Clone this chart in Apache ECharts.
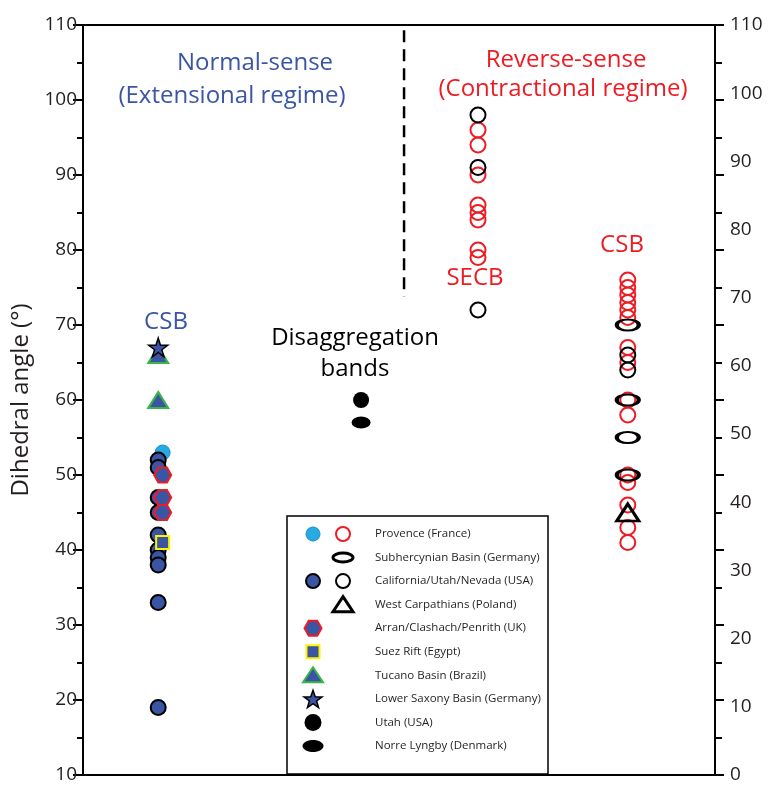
<!DOCTYPE html>
<html>
<head>
<meta charset="utf-8">
<script src="https://cdn.jsdelivr.net/npm/echarts@6/dist/echarts.min.js"></script>
<style>
  html, body { margin: 0; padding: 0; background: #fff; }
  #chart { width: 769px; height: 789px; }
</style>
</head>
<body>
<div id="chart"></div>
<script>
// Column positions on the hidden 0–100 horizontal scale
const columnX = { normalCSB: 11.9, disaggregation: 44, secb: 62.5, reverseCSB: 86.2 };
const nudge = 0.7;

// Normal-sense (extensional) CSB column
const californiaSolid = [52, 51, 47, 45, 42, 40, 39, 38, 33, 19];
const provenceSolid = [53];
const arranHex = [50, 47, 45];
const suezSquare = [41];
const tucanoTriangle = [66, 60];
const lowerSaxonyStar = [67];

// Disaggregation bands
const utahDisagg = [60];
const norreLyngby = [57];

// Reverse-sense SECB column
const secbProvence = [96, 94, 90, 86, 85, 84, 80, 79];
const secbCalifornia = [98, 91, 72];

// Reverse-sense CSB column
const csbProvence = [76, 75, 74, 73, 72, 71, 67, 65, 60, 58, 50, 49, 46, 43, 41];
const csbSubhercynian = [70, 60, 55, 50];
const csbCalifornia = [66, 64];
const csbCarpathians = [45];

// Dashed divider between regimes
const dividerX = 50.8;
const dividerRange = [109.3, 73.8];

// Axis ticks
const leftTicks = { min: 10, max: 110, interval: 10 };
const rightTicks = { min: 0, max: 110, interval: 10 };

const DARK_BLUE = '#3b55a5';
const LIGHT_BLUE = '#27aae1';
const RED = '#ed1c24';
const GREEN = '#39b54a';
const YELLOW = '#fff200';
const FONT = '"Open Sans", "Liberation Sans", sans-serif';

const HEX = 'path://M-1,0 L-0.5,-0.866 L0.5,-0.866 L1,0 L0.5,0.866 L-0.5,0.866 Z';
const STAR = 'path://M0,-1 L0.2245,-0.309 L0.951,-0.309 L0.363,0.118 L0.588,0.809 L0,0.382 L-0.588,0.809 L-0.363,0.118 L-0.951,-0.309 L-0.2245,-0.309 Z';

const at = (x, values) => values.map(v => [x, v]);

function scatter(name, data, symbol, size, itemStyle, z) {
  return {
    name, type: 'scatter', data, symbol, symbolSize: size,
    itemStyle: Object.assign({ opacity: 1 }, itemStyle),
    z: z || 2, silent: true, animation: false
  };
}

const series = [
  scatter('Provence (France)', at(columnX.normalCSB + nudge, provenceSolid), 'circle', 15,
    { color: LIGHT_BLUE, borderColor: '#1c8fc9', borderWidth: 1 }, 2),
  scatter('California/Utah/Nevada (USA)', at(columnX.normalCSB, californiaSolid), 'circle', 15,
    { color: DARK_BLUE, borderColor: '#000', borderWidth: 2 }, 3),
  scatter('Arran/Clashach/Penrith (UK)', at(columnX.normalCSB + nudge, arranHex), HEX, [17, 15],
    { color: DARK_BLUE, borderColor: RED, borderWidth: 2 }, 4),
  scatter('Suez Rift (Egypt)', at(columnX.normalCSB + nudge, suezSquare), 'rect', 13,
    { color: DARK_BLUE, borderColor: YELLOW, borderWidth: 2 }, 5),
  scatter('Tucano Basin (Brazil)', at(columnX.normalCSB, tucanoTriangle), 'triangle', [20, 16],
    { color: DARK_BLUE, borderColor: GREEN, borderWidth: 2 }, 5),
  scatter('Lower Saxony Basin (Germany)', at(columnX.normalCSB, lowerSaxonyStar), STAR, 19,
    { color: DARK_BLUE, borderColor: '#000', borderWidth: 1.5 }, 6),

  scatter('Utah (USA)', at(columnX.disaggregation, utahDisagg), 'circle', 16,
    { color: '#000' }, 3),
  scatter('Norre Lyngby (Denmark)', at(columnX.disaggregation, norreLyngby), 'circle', [19, 12],
    { color: '#000' }, 3),

  scatter('Provence (France) SECB', at(columnX.secb, secbProvence), 'circle', 15,
    { color: 'rgba(0,0,0,0)', borderColor: RED, borderWidth: 2 }, 3),
  scatter('California SECB', at(columnX.secb, secbCalifornia), 'circle', 15,
    { color: 'rgba(0,0,0,0)', borderColor: '#000', borderWidth: 2 }, 4),

  scatter('Provence (France) CSB', at(columnX.reverseCSB, csbProvence), 'circle', 15,
    { color: 'rgba(0,0,0,0)', borderColor: RED, borderWidth: 2 }, 3),
  scatter('California CSB', at(columnX.reverseCSB, csbCalifornia), 'circle', 15,
    { color: 'rgba(0,0,0,0)', borderColor: '#000', borderWidth: 2 }, 4),
  scatter('Subhercynian Basin (Germany)', at(columnX.reverseCSB, csbSubhercynian), 'circle', [22, 11],
    { color: 'rgba(0,0,0,0)', borderColor: '#000', borderWidth: 3 }, 5),
  scatter('West Carpathians (Poland)', at(columnX.reverseCSB, csbCarpathians), 'triangle', [22, 17],
    { color: 'rgba(0,0,0,0)', borderColor: '#000', borderWidth: 3 }, 5),

  {
    name: 'divider', type: 'line', silent: true, animation: false, symbol: 'none',
    data: dividerRange.map(v => [dividerX, v]),
    lineStyle: { color: '#000', width: 2.5, type: [12, 7] }, z: 1
  }
];

// Legend drawn as graphics inside a framed box
const LX1 = 313, LX2 = 343, LTX = 375, LY0 = 534, LDY = 23.55;
const legendRows = [
  'Provence (France)', 'Subhercynian Basin (Germany)', 'California/Utah/Nevada (USA)',
  'West Carpathians (Poland)', 'Arran/Clashach/Penrith (UK)', 'Suez Rift (Egypt)',
  'Tucano Basin (Brazil)', 'Lower Saxony Basin (Germany)', 'Utah (USA)', 'Norre Lyngby (Denmark)'
];
const rowY = i => LY0 + i * LDY;
function hexPoints(cx, cy, rx, ry) {
  return [[cx - rx, cy], [cx - rx / 2, cy - ry], [cx + rx / 2, cy - ry], [cx + rx, cy], [cx + rx / 2, cy + ry], [cx - rx / 2, cy + ry]];
}
function starPoints(cx, cy, r) {
  const pts = [];
  for (let k = 0; k < 10; k++) {
    const rr = k % 2 === 0 ? r : r * 0.4;
    const a = -Math.PI / 2 + k * Math.PI / 5;
    pts.push([cx + rr * Math.cos(a), cy + rr * Math.sin(a)]);
  }
  return pts;
}
const legendGraphics = [
  { type: 'rect', shape: { x: 287, y: 516, width: 261, height: 258 },
    style: { fill: '#fff', stroke: '#000', lineWidth: 1.5 }, z: 10 },
  ...legendRows.map((t, i) => ({
    type: 'text', x: LTX, y: rowY(i), z: 11,
    style: { text: t, fill: '#231f20', font: '11.5px ' + FONT, textVerticalAlign: 'middle' }
  })),
  { type: 'circle', shape: { cx: LX1, cy: rowY(0), r: 7 }, style: { fill: LIGHT_BLUE, stroke: '#1c8fc9', lineWidth: 1 }, z: 11 },
  { type: 'circle', shape: { cx: LX2, cy: rowY(0), r: 7 }, style: { fill: 'none', stroke: RED, lineWidth: 2 }, z: 11 },
  { type: 'ellipse', shape: { cx: LX2, cy: rowY(1), rx: 10, ry: 4.5 }, style: { fill: 'none', stroke: '#000', lineWidth: 3 }, z: 11 },
  { type: 'circle', shape: { cx: LX1, cy: rowY(2), r: 7 }, style: { fill: DARK_BLUE, stroke: '#000', lineWidth: 2 }, z: 11 },
  { type: 'circle', shape: { cx: LX2, cy: rowY(2), r: 7 }, style: { fill: 'none', stroke: '#000', lineWidth: 2 }, z: 11 },
  { type: 'polygon', shape: { points: [[LX2, rowY(3) - 8], [LX2 + 10, rowY(3) + 7], [LX2 - 10, rowY(3) + 7]] }, style: { fill: 'none', stroke: '#000', lineWidth: 3 }, z: 11 },
  { type: 'polygon', shape: { points: hexPoints(LX1, rowY(4), 8.5, 7.5) }, style: { fill: DARK_BLUE, stroke: RED, lineWidth: 2 }, z: 11 },
  { type: 'rect', shape: { x: LX1 - 6.5, y: rowY(5) - 6.5, width: 13, height: 13 }, style: { fill: DARK_BLUE, stroke: YELLOW, lineWidth: 2 }, z: 11 },
  { type: 'polygon', shape: { points: [[LX1, rowY(6) - 8], [LX1 + 10, rowY(6) + 7], [LX1 - 10, rowY(6) + 7]] }, style: { fill: DARK_BLUE, stroke: GREEN, lineWidth: 2 }, z: 11 },
  { type: 'polygon', shape: { points: starPoints(LX1, rowY(7) + 1, 9.5) }, style: { fill: DARK_BLUE, stroke: '#000', lineWidth: 1.5 }, z: 11 },
  { type: 'circle', shape: { cx: LX1, cy: rowY(8), r: 8.5 }, style: { fill: '#000' }, z: 11 },
  { type: 'ellipse', shape: { cx: LX1, cy: rowY(9), rx: 10.5, ry: 6 }, style: { fill: '#000' }, z: 11 }
];

function label(text, x, y, color, size, align) {
  return { type: 'text', x, y, z: 9,
    style: { text, fill: color, font: size + 'px ' + FONT, textAlign: align || 'center', textVerticalAlign: 'middle' } };
}

const annotations = [
  label('Normal-sense', 255, 63, DARK_BLUE, 24),
  label('(Extensional regime)', 232, 96, DARK_BLUE, 24),
  label('Reverse-sense', 566, 60, RED, 24),
  label('(Contractional regime)', 563, 89, RED, 24),
  label('CSB', 166, 322, DARK_BLUE, 24),
  label('Disaggregation', 355, 338, '#000', 24),
  label('bands', 355, 369, '#000', 24),
  label('SECB', 475, 278, RED, 24),
  label('CSB', 622, 245, RED, 24)
];

const axisLine = { show: true, lineStyle: { color: '#000', width: 2 } };
const tickLabel = { color: '#231f20', fontSize: 19, fontFamily: FONT };

const option = {
  animation: false,
  backgroundColor: '#fff',
  grid: { left: 83, right: 54, top: 25, bottom: 14, containLabel: false },
  xAxis: [
    { type: 'value', min: 0, max: 100, position: 'bottom', axisLine,
      axisTick: { show: false }, axisLabel: { show: false }, splitLine: { show: false } },
    { type: 'value', min: 0, max: 100, position: 'top', axisLine,
      axisTick: { show: false }, axisLabel: { show: false }, splitLine: { show: false } }
  ],
  yAxis: [
    { type: 'value', min: leftTicks.min, max: leftTicks.max, interval: leftTicks.interval, position: 'left',
      name: 'Dihedral angle (°)', nameLocation: 'middle', nameGap: 48,
      nameTextStyle: { fontSize: 24, fontFamily: FONT, color: '#231f20' },
      axisLine, axisTick: { show: true, inside: false, length: 10, lineStyle: { width: 2, color: '#000' } },
      minorTick: { show: true, splitNumber: 2, length: 6, lineStyle: { width: 2, color: '#000' } },
      axisLabel: { ...tickLabel, margin: 6 }, splitLine: { show: false }, minorSplitLine: { show: false } },
    { type: 'value', min: rightTicks.min, max: rightTicks.max, interval: rightTicks.interval, position: 'right',
      axisLine: { show: false }, axisTick: { show: false },
      axisLabel: { ...tickLabel, margin: 15 }, splitLine: { show: false } },
    { type: 'value', min: leftTicks.min, max: leftTicks.max, interval: leftTicks.interval, position: 'right',
      axisLine, axisTick: { show: true, inside: false, length: 9, lineStyle: { width: 2, color: '#000' } },
      minorTick: { show: true, splitNumber: 2, length: 7, lineStyle: { width: 2, color: '#000' } },
      axisLabel: { show: false }, splitLine: { show: false }, minorSplitLine: { show: false } }
  ],
  series,
  graphic: [...annotations, ...legendGraphics]
};

const chart = echarts.init(document.getElementById('chart'), null, { renderer: 'canvas' });
chart.setOption(option);
</script>
</body>
</html>
